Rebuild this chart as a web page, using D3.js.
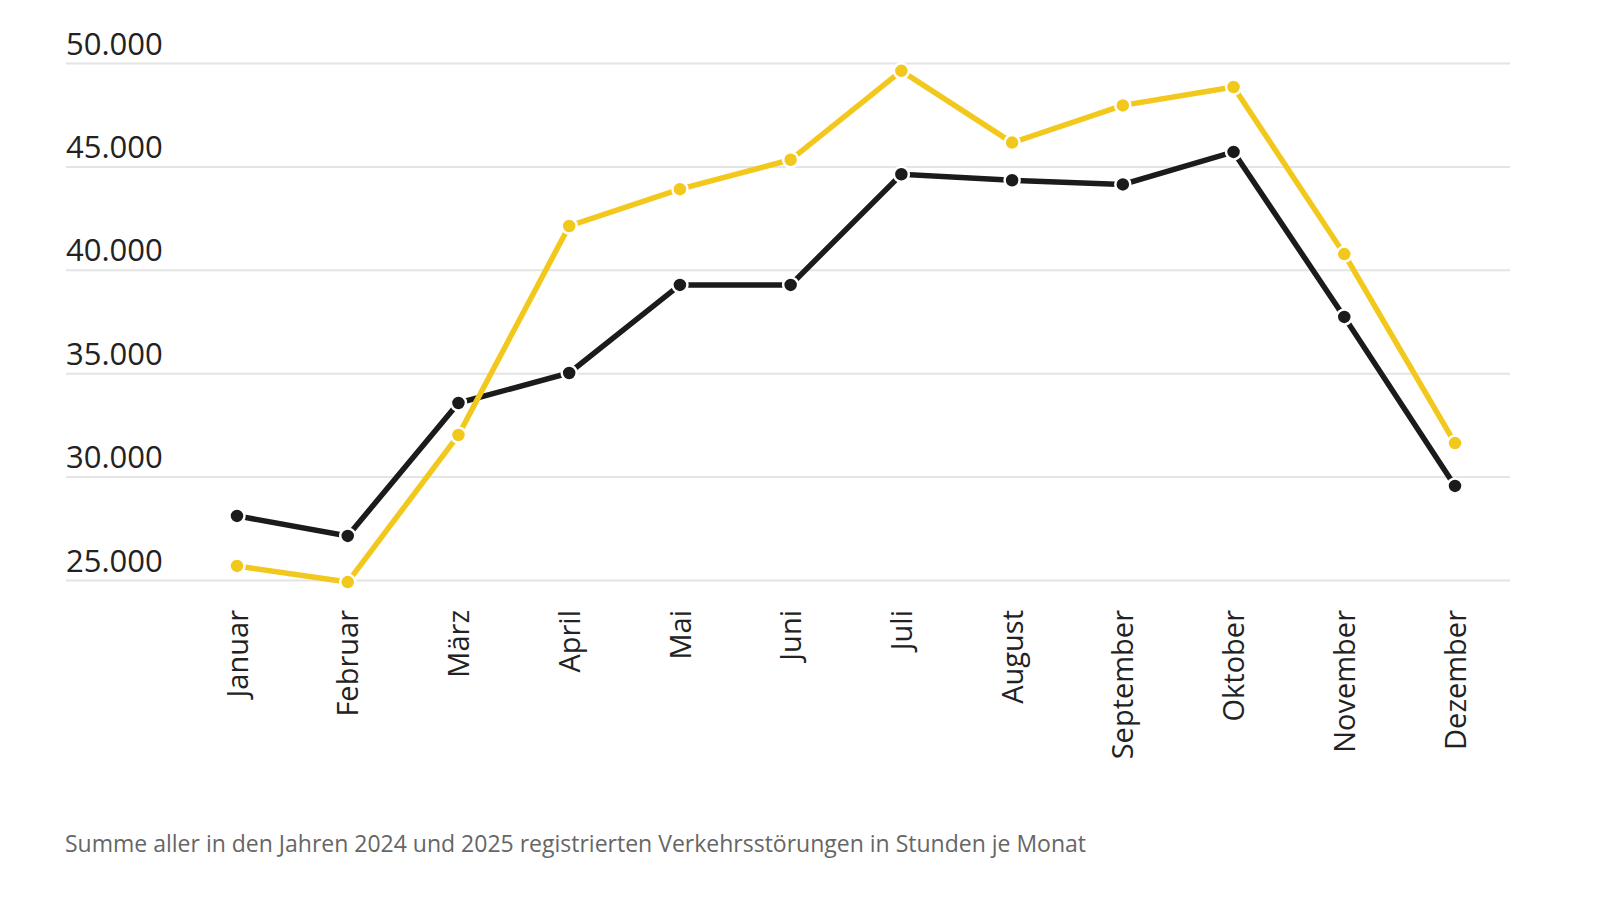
<!DOCTYPE html>
<html>
<head>
<meta charset="utf-8">
<script src="https://cdn.jsdelivr.net/npm/d3@7"></script>
<style>
	body { margin: 0; background: #fff; }
	text { font-family: "Open Sans", "Noto Sans", sans-serif; }
</style>
</head>
<body>
<script>
//month names on the x axis
var months = ["Januar", "Februar", "März", "April", "Mai", "Juni", "Juli", "August", "September", "Oktober", "November", "Dezember"];

//hours of traffic disruption per month
var valuesBlack = [28100, 27130, 33560, 35010, 39270, 39270, 44620, 44330, 44130, 45700, 37720, 29550];
var valuesYellow = [25680, 24900, 32010, 42120, 43900, 45320, 49620, 46150, 47950, 48840, 40760, 31620];

//y tick values
var yTicks = [25000, 30000, 35000, 40000, 45000, 50000];

var caption = "Summe aller in den Jahren 2024 und 2025 registrierten Verkehrsstörungen in Stunden je Monat";

window.onload = function(){

	var w = 1600, h = 900;
	var gridLeft = 66, gridRight = 1510;

	var svg = d3.select("body")
		.append("svg")
		.attr("width", w)
		.attr("height", h);

	//german number format (50.000)
	var de = d3.formatLocale({decimal: ",", thousands: ".", grouping: [3], currency: ["", " €"]});
	var fmt = de.format(",");

	var x = d3.scalePoint()
		.domain(months)
		.range([237, 1455]);

	var y = d3.scaleLinear()
		.domain([25000, 50000])
		.range([580, 63]);

	//gridlines + labels sitting on top of them
	var yAxis = svg.append("g")
		.attr("transform", "translate(" + gridLeft + ",0)")
		.call(d3.axisRight(y)
			.tickValues(yTicks)
			.tickSize(gridRight - gridLeft)
			.tickFormat(fmt));

	yAxis.select(".domain").remove();
	yAxis.selectAll(".tick line")
		.attr("stroke", "#e4e4e4")
		.attr("stroke-width", 2);
	yAxis.selectAll(".tick text")
		.attr("x", 0)
		.attr("dy", -9)
		.attr("text-anchor", "start")
		.style("font-size", "31px")
		.style("fill", "#222");

	//month labels, rotated
	var xAxis = svg.append("g")
		.attr("transform", "translate(0,580)")
		.call(d3.axisBottom(x).tickSize(0));

	xAxis.select(".domain").remove();
	xAxis.selectAll(".tick text")
		.attr("transform", "rotate(-90)")
		.attr("x", -30)
		.attr("y", 0)
		.attr("dy", "0.35em")
		.attr("text-anchor", "end")
		.style("font-size", "29px")
		.style("fill", "#222");

	var line = d3.line()
		.x(function(d, i){ return x(months[i]); })
		.y(function(d){ return y(d); });

	var series = [
		{ name: "black", color: "#1b1b1b", values: valuesBlack },
		{ name: "yellow", color: "#f3c81c", values: valuesYellow }
	];

	series.forEach(function(s){
		var g = svg.append("g").attr("class", "series " + s.name);

		g.append("path")
			.datum(s.values)
			.attr("d", line)
			.attr("fill", "none")
			.attr("stroke", s.color)
			.attr("stroke-width", 5.5);

		g.selectAll("circle")
			.data(s.values)
			.enter()
			.append("circle")
			.attr("cx", function(d, i){ return x(months[i]); })
			.attr("cy", function(d){ return y(d); })
			.attr("r", 7.5)
			.attr("fill", s.color)
			.attr("stroke", "#fff")
			.attr("stroke-width", 2.5);
	});

	//source note
	svg.append("text")
		.attr("x", 65)
		.attr("y", 852)
		.style("font-size", "23px")
		.style("fill", "#666")
		.text(caption);
};
</script>
</body>
</html>
